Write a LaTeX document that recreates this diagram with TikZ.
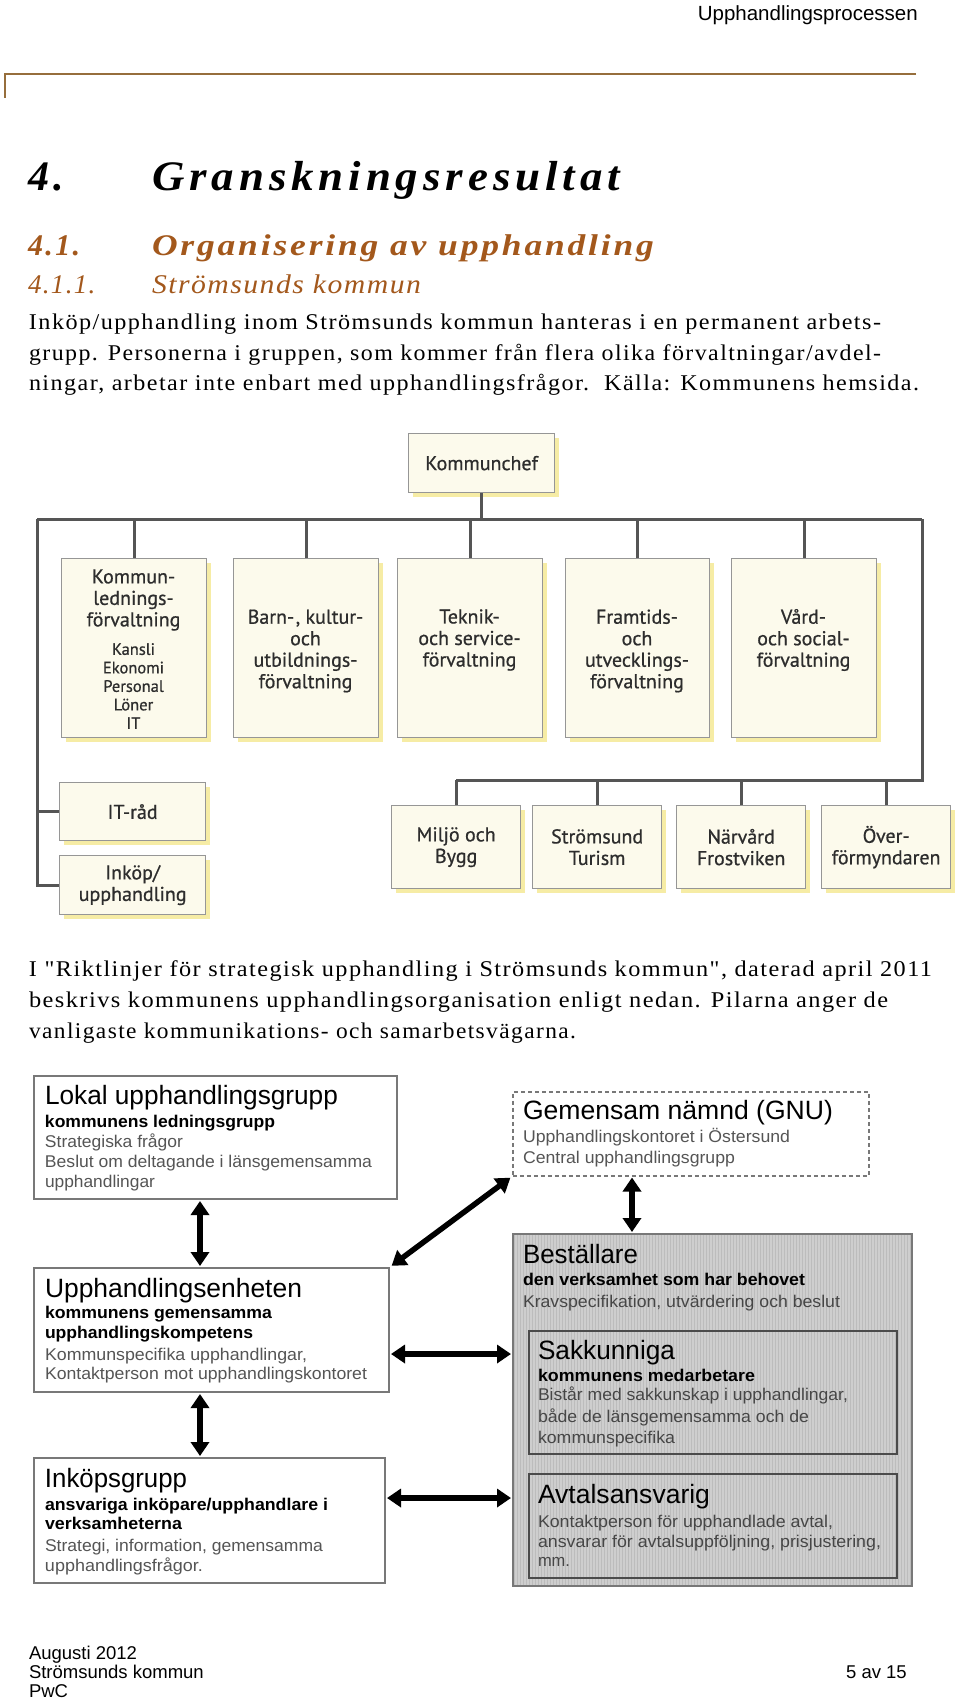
\documentclass[tikz,border=0pt]{standalone}
\usepackage{fontspec}
\usepackage{graphicx}
\setmainfont{Liberation Serif}
\newfontfamily\bodyf[LetterSpace=6]{Liberation Serif}
\newfontfamily\headf[LetterSpace=11]{Liberation Serif}
\newfontfamily\headfb[LetterSpace=8]{Liberation Serif}
\newfontfamily\headfc[LetterSpace=5]{Liberation Serif}
\newfontfamily\arialf{Liberation Sans}
\newfontfamily\orgf[FakeBold=0.7]{PT Sans}
\usetikzlibrary{arrows.meta,shadows}
\definecolor{hbrown}{RGB}{163,88,28}
\definecolor{rulec}{RGB}{150,110,60}
\definecolor{cream}{RGB}{252,250,236}
\definecolor{shadowy}{RGB}{246,236,165}
\definecolor{obord}{RGB}{150,150,150}
\definecolor{ogray}{RGB}{85,85,85}
\definecolor{otext}{RGB}{45,45,45}
\definecolor{dgray}{RGB}{120,120,120}
\definecolor{gtext}{RGB}{85,85,85}
\definecolor{itext}{RGB}{70,70,70}
\definecolor{bfill}{RGB}{206,206,206}
\definecolor{bgrid}{RGB}{188,188,188}
\newcommand{\fl}[2]{\resizebox{#1pt}{\height}{#2}}
\newcommand{\fs}[1]{\fontsize{#1}{#1}\selectfont}
\tikzset{
 txt/.style={anchor=base west,inner sep=0pt,outer sep=0pt},
 obox/.style={draw=obord,line width=1.3pt,fill=cream,anchor=north west,inner sep=0pt,
   drop shadow={shadow xshift=4pt,shadow yshift=-4pt,fill=shadowy,opacity=1}},
 olab/.style={align=center,text=otext,inner sep=0pt,font=\orgf\fontsize{20}{21.5}\selectfont},
 osub/.style={align=center,text=otext,inner sep=0pt,font=\orgf\fontsize{16.5}{18.5}\selectfont},
 orgln/.style={draw=ogray,line width=3pt},
 dbox/.style={draw=dgray,line width=2pt,fill=white,anchor=north west,inner sep=0pt},
 ibox/.style={draw={rgb,255:red,75;green,75;blue,75},line width=1.5pt,anchor=north west,inner sep=0pt},
 dtitle/.style={txt,font=\arialf\fs{26.5}},
 dbold/.style={txt,font=\arialf\bfseries\fs{17}},
 dgr/.style={txt,font=\arialf\fs{17},text=gtext},
 dgi/.style={txt,font=\arialf\fs{17},text=itext},
 dbl/.style={line width=5.5pt,{Triangle[length=14pt,width=18pt]}-{Triangle[length=14pt,width=18pt]}},
}
\begin{document}
\begin{tikzpicture}[x=1pt,y=-1pt]
\useasboundingbox[fill=white] (0,0) rectangle (960,1701);

% header
\node[anchor=base east,inner sep=0pt] (hdr) at (918,20) {\arialf\fs{20.5}Upphandlingsprocessen};
\draw[rulec,line width=2pt] (916,74) -- (5,74) -- (5,98);

% headings
\node[txt] (h1n) at (28,190) {\headf\bfseries\itshape\fs{42}4.};
\node[txt] (h1) at (152,190) {\headf\bfseries\itshape\fs{42}\fl{468}{Granskningsresultat}};
\node[txt,text=hbrown] (h2n) at (28,255) {\headfb\bfseries\itshape\fs{30}4.1.};
\node[txt,text=hbrown] (h2) at (152,255) {\headfb\bfseries\itshape\fs{30}\fl{502}{Organisering av upphandling}};
\node[txt,text=hbrown] (h3n) at (28,293) {\headfc\itshape\fs{27}4.1.1.};
\node[txt,text=hbrown] (h3) at (152,293) {\headfc\itshape\fs{27}\fl{269}{Strömsunds kommun}};

% paragraph 1
\node[txt] (p1a) at (29,329) {\bodyf\fs{22.5}\fl{852}{Inköp/upphandling inom Strömsunds kommun hanteras i en permanent arbets-}};
\node[txt] (p1b) at (29,360) {\bodyf\fs{22.5}\fl{852}{grupp. Personerna i gruppen, som kommer från flera olika förvaltningar/avdel-}};
\node[txt] (p1c) at (29,390) {\bodyf\fs{22.5}\fl{890}{ningar, arbetar inte enbart med upphandlingsfrågor.\ \ Källa: Kommunens hemsida.}};

% org chart boxes
\node[obox,minimum width=146pt,minimum height=59pt] (kc) at (408,433) {};
\node[olab] (kct) at (kc.center) {Kommunchef};
\node[obox,minimum width=145pt,minimum height=179pt] (k1) at (61,558) {};
\node[obox,minimum width=145pt,minimum height=179pt] (k2) at (233,558) {};
\node[obox,minimum width=145pt,minimum height=179pt] (k3) at (397,558) {};
\node[obox,minimum width=144pt,minimum height=179pt] (k4) at (565,558) {};
\node[obox,minimum width=145pt,minimum height=179pt] (k5) at (731,558) {};
\node[olab] (k1t) at (133.5,600) {Kommun-\\lednings-\\förvaltning};
\node[osub] (k1s) at (133.5,686) {Kansli\\Ekonomi\\Personal\\Löner\\IT};
\node[olab] (k2t) at (305.5,651) {Barn-\kern1.5pt, kultur-\\och\\utbildnings-\\förvaltning};
\node[olab] (k3t) at (469.5,640) {Teknik-\\och service-\\förvaltning};
\node[olab] (k4t) at (637,651) {Framtids-\\och\\utvecklings-\\förvaltning};
\node[olab] (k5t) at (803.5,640) {Vård-\\och social-\\förvaltning};

\node[obox,minimum width=146pt,minimum height=58pt] (it) at (59,782) {};
\node[olab] (itt) at (it.center) {IT-råd};
\node[obox,minimum width=146pt,minimum height=59pt] (ink) at (59,855) {};
\node[olab] (inkt) at (ink.center) {Inköp/\\upphandling};

\node[obox,minimum width=129pt,minimum height=83pt] (b1) at (391,805) {};
\node[obox,minimum width=129pt,minimum height=83pt] (b2) at (532,805) {};
\node[obox,minimum width=129pt,minimum height=83pt] (b3) at (676,805) {};
\node[obox,minimum width=129pt,minimum height=83pt] (b4) at (821,805) {};
\node[olab] (b1t) at (b1.center) {Miljö och\\Bygg};
\node[olab] (b2t) at (b2.center) {Strömsund\\Turism};
\node[olab] (b3t) at (b3.center) {Närvård\\Frostviken};
\node[olab] (b4t) at (b4.center) {Över-\\förmyndaren};

% org chart lines
\coordinate (bl) at (37,519);
\coordinate (br) at (922,519);
\coordinate (lo) at (922,780);
\draw[orgln] (bl) -- (br);
\draw[orgln] (kc.south) -- (kc.south |- bl);
\foreach \k in {k1,k2,k3,k4,k5} {\draw[orgln] (\k.north) -- (\k.north |- bl);}
\draw[orgln] (bl) -- (bl |- ink.west) -- (ink.west);
\draw[orgln] (bl |- it.west) -- (it.west);
\draw[orgln] (br) -- (lo) -- (lo -| b1.north);
\foreach \k in {b1,b2,b3,b4} {\draw[orgln] (\k.north) -- (\k.north |- lo);}

% paragraph 2
\node[txt] (p2a) at (29,976) {\bodyf\fs{22.5}\fl{903}{I "Riktlinjer för strategisk upphandling i Strömsunds kommun", daterad april 2011}};
\node[txt] (p2b) at (29,1007) {\bodyf\fs{22.5}\fl{859}{beskrivs kommunens upphandlingsorganisation enligt nedan. Pilarna anger de}};
\node[txt] (p2c) at (29,1038) {\bodyf\fs{22.5}\fl{547}{vanligaste kommunikations- och samarbetsvägarna.}};

% diagram 2 boxes
\node[dbox,minimum width=363pt,minimum height=123pt] (lok) at (33,1075) {};
\node[dbox,minimum width=355pt,minimum height=124pt] (upp) at (33,1267) {};
\node[dbox,minimum width=351pt,minimum height=125pt] (ikg) at (33,1457) {};
\node[dbox,draw=dgray,line width=1.5pt,dash pattern=on 4pt off 3pt,minimum width=356pt,minimum height=84pt] (gnu) at (512,1091) {};
\node[dbox,fill=bfill,minimum width=399pt,minimum height=352pt,
  path picture={\draw[bgrid,line width=0.6pt,step=3] (path picture bounding box.south west) grid (path picture bounding box.north east);}] (best) at (512,1233) {};
\node[ibox,minimum width=368pt,minimum height=123pt] (sak) at (528,1330) {};
\node[ibox,minimum width=368pt,minimum height=104pt] (avt) at (528,1473) {};

% diagram 2 texts
\node[dtitle] (lok1) at (45,1104) {\fl{293}{Lokal upphandlingsgrupp}};
\node[dbold] (lok2) at (45,1127) {\fl{230}{kommunens ledningsgrupp}};
\node[dgr] (lok3) at (45,1147) {\fl{138}{Strategiska frågor}};
\node[dgr] (lok4) at (45,1167) {\fl{327}{Beslut om deltagande i länsgemensamma}};
\node[dgr] (lok5) at (45,1187) {\fl{110}{upphandlingar}};

\node[dtitle] (upp1) at (45,1297) {\fl{257}{Upphandlingsenheten}};
\node[dbold] (upp2) at (45,1318) {\fl{227}{kommunens gemensamma}};
\node[dbold] (upp3) at (45,1338) {\fl{208}{upphandlingskompetens}};
\node[dgr] (upp4) at (45,1360) {\fl{262}{Kommunspecifika upphandlingar,}};
\node[dgr] (upp5) at (45,1379) {\fl{322}{Kontaktperson mot upphandlingskontoret}};

\node[dtitle] (ikg1) at (45,1487) {\fl{142}{Inköpsgrupp}};
\node[dbold] (ikg2) at (45,1510) {\fl{283}{ansvariga inköpare/upphandlare i}};
\node[dbold] (ikg3) at (45,1529) {\fl{137}{verksamheterna}};
\node[dgr] (ikg4) at (45,1551) {\fl{278}{Strategi, information, gemensamma}};
\node[dgr] (ikg5) at (45,1571) {\fl{158}{upphandlingsfrågor.}};

\node[dtitle] (gnu1) at (523,1119) {\fl{310}{Gemensam nämnd (GNU)}};
\node[dgr] (gnu2) at (523,1142) {\fl{267}{Upphandlingskontoret i Östersund}};
\node[dgr] (gnu3) at (523,1163) {\fl{212}{Central upphandlingsgrupp}};

\node[dtitle] (best1) at (523,1263) {\fl{115}{Beställare}};
\node[dbold] (best2) at (523,1285) {\fl{282}{den verksamhet som har behovet}};
\node[dgi] (best3) at (523,1307) {\fl{317}{Kravspecifikation, utvärdering och beslut}};

\node[dtitle] (sak1) at (538,1359) {\fl{137}{Sakkunniga}};
\node[dbold] (sak2) at (538,1381) {\fl{217}{kommunens medarbetare}};
\node[dgi] (sak3) at (538,1400) {\fl{310}{Bistår med sakkunskap i upphandlingar,}};
\node[dgi] (sak4) at (538,1422) {\fl{271}{både de länsgemensamma och de}};
\node[dgi] (sak5) at (538,1443) {\fl{137}{kommunspecifika}};

\node[dtitle] (avt1) at (538,1503) {\fl{172}{Avtalsansvarig}};
\node[dgi] (avt2) at (538,1527) {\fl{295}{Kontaktperson för upphandlade avtal,}};
\node[dgi] (avt3) at (538,1547) {\fl{343}{ansvarar för avtalsuppföljning, prisjustering,}};
\node[dgi] (avt4) at (538,1566) {\fl{32}{mm.}};

% diagram 2 arrows
\coordinate (ax) at (200,0);
\coordinate (gx) at (632,0);
\coordinate (a4) at (0,1354);
\coordinate (a5) at (0,1498);
\draw[dbl,shorten <=1pt,shorten >=1pt] (lok.south -| ax) -- (upp.north -| ax);
\draw[dbl,shorten <=1pt,shorten >=1pt] (upp.south -| ax) -- (ikg.north -| ax);
\draw[dbl,shorten <=2pt,shorten >=2pt] (upp.north east) -- (gnu.south west);
\draw[dbl,shorten <=1pt,shorten >=1pt] (upp.east |- a4) -- (best.west |- a4);
\draw[dbl,shorten <=1pt,shorten >=1pt] (ikg.east |- a5) -- (best.west |- a5);
\draw[dbl,shorten <=1pt,shorten >=1pt] (gnu.south -| gx) -- (best.north -| gx);

% footer
\node[txt] (f1) at (29,1659) {\arialf\fs{18.5}Augusti 2012};
\node[txt] (f2) at (29,1678) {\arialf\fs{18.5}Strömsunds kommun};
\node[txt] (f3) at (29,1697) {\arialf\fs{18.5}PwC};
\node[anchor=base east,inner sep=0pt] (f4) at (907,1678) {\arialf\fs{18.5}5 av 15};
\end{tikzpicture}
\end{document}
